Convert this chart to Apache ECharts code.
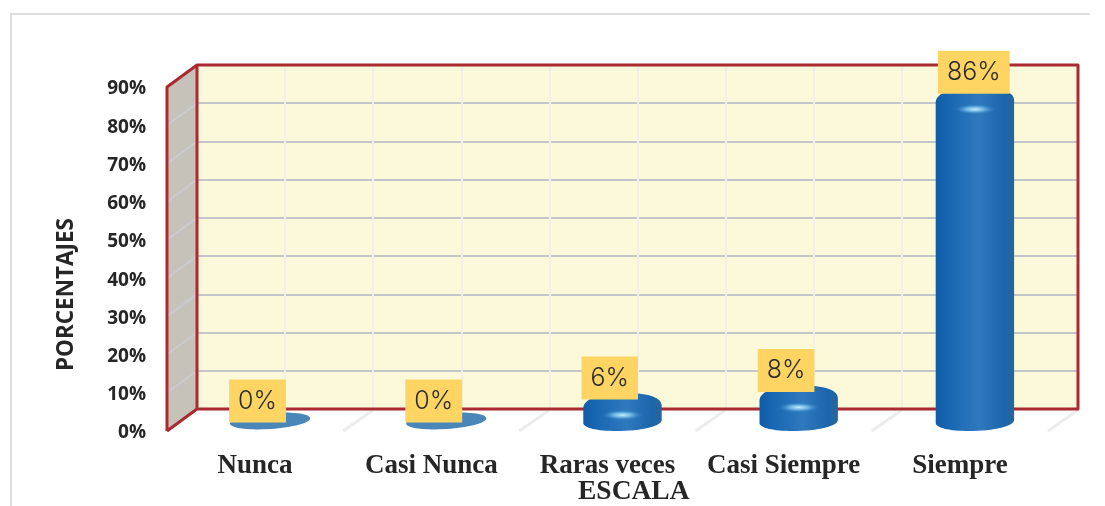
<!DOCTYPE html>
<html>
<head>
<meta charset="utf-8">
<style>
html, body { margin: 0; padding: 0; background: #fff; }
#main { width: 1105px; height: 506px; }
</style>
<script src="https://cdn.jsdelivr.net/npm/echarts@6/dist/echarts.min.js"></script>
</head>
<body>
<div id="main"></div>
<script>
var categories = ['Nunca', 'Casi Nunca', 'Raras veces', 'Casi Siempre', 'Siempre'];
var values = [0, 0, 6, 8, 86];
var yTicks = [0, 10, 20, 30, 40, 50, 60, 70, 80, 90];
var xAxisName = 'ESCALA';
var yAxisName = 'PORCENTAJES';

// depth of the fake 3d box, front plane is shifted from the back wall by this
var depthX = 30;
var depthY = 22;
var red = '#a92a30';

var chart = echarts.init(document.getElementById('main'));

function boxItem(params, api) {
	var tl = api.coord([0, 90]);
	var tr = api.coord([5, 90]);
	var bl = api.coord([0, 0]);
	var br = api.coord([5, 0]);
	var kids = [];
	// left wall
	kids.push({
		type: 'polygon',
		shape: { points: [tl, bl, [bl[0] - depthX, bl[1] + depthY], [tl[0] - depthX, tl[1] + depthY]] },
		style: { fill: '#c6c2ba' }
	});
	yTicks.slice(1, -1).forEach(function(t) {
		var p = api.coord([0, t]);
		kids.push({
			type: 'line',
			shape: { x1: p[0], y1: p[1], x2: p[0] - depthX, y2: p[1] + depthY },
			style: { stroke: '#cbcbcf', lineWidth: 2 }
		});
	});
	// floor marks, every half category
	for (var i = 1; i <= 10; i++) {
		var f = api.coord([i / 2, 0]);
		kids.push({
			type: 'line',
			shape: { x1: f[0], y1: f[1] + 1, x2: f[0] - depthX, y2: f[1] + depthY },
			style: { stroke: i % 2 ? '#f6f6f6' : '#ececec', lineWidth: 3 }
		});
	}
	// red frame
	kids.push({
		type: 'polyline',
		shape: { points: [[bl[0] - depthX, bl[1] + depthY], [tl[0] - depthX, tl[1] + depthY], tl, tr, br, bl, [bl[0] - depthX, bl[1] + depthY]] },
		style: { stroke: red, lineWidth: 3, fill: null, lineJoin: 'round' }
	});
	kids.push({
		type: 'line',
		shape: { x1: tl[0], y1: tl[1], x2: bl[0], y2: bl[1] },
		style: { stroke: red, lineWidth: 3 }
	});
	return { type: 'group', children: kids };
}

function barItem(params, api) {
	var v = api.value(1);
	var c = api.coord([api.value(0), v]);
	var base = api.coord([api.value(0), 0]);
	var w = api.size([1, 0])[0] * 0.445;
	var left = c[0] - w / 2;
	if (v === 0) {
		return {
			type: 'ellipse',
			shape: { cx: c[0], cy: base[1] + 1, rx: w / 2 + 1, ry: 8 },
			rotation: 0.07,
			originX: c[0],
			originY: base[1] + 1,
			style: { fill: '#4a86b8' }
		};
	}
	var top = c[1] - 4;
	var h = base[1] + 11 - top;
	var d = 'M0,15 C0,5 ' + w * 0.25 + ',0 ' + w * 0.55 + ',0 C' + w * 0.85 + ',0 ' + w + ',5 ' + w + ',13 '
		+ 'L' + w + ',' + (h - 11) + ' C' + w + ',' + (h - 5) + ' ' + w * 0.75 + ',' + h + ' ' + w * 0.42 + ',' + h
		+ ' C' + w * 0.18 + ',' + h + ' 0,' + (h - 3) + ' 0,' + (h - 8) + ' Z';
	return {
		type: 'group',
		children: [{
			type: 'path',
			shape: { pathData: d, layout: 'cover', x: left, y: top, width: w, height: h },
			style: {
				fill: new echarts.graphic.LinearGradient(0, 0, 1, 0, [
					{ offset: 0, color: '#0f5ba6' },
					{ offset: 0.15, color: '#1766b2' },
					{ offset: 0.55, color: '#2f79bd' },
					{ offset: 0.88, color: '#1a66ab' },
					{ offset: 1, color: '#2a6598' }
				])
			}
		}, {
			// glint on the shoulder, a circle squashed flat
			type: 'circle',
			x: c[0],
			y: top + 22,
			scaleY: 0.25,
			shape: { cx: 0, cy: 0, r: 21 },
			style: {
				fill: new echarts.graphic.RadialGradient(0.5, 0.5, 0.5, [
					{ offset: 0, color: 'rgba(200,240,252,1)' },
					{ offset: 0.45, color: 'rgba(120,195,235,0.8)' },
					{ offset: 1, color: 'rgba(47,121,189,0)' }
				])
			}
		}]
	};
}

var option = {
	backgroundColor: '#fff',
	animation: false,
	grid: [
		// back wall
		{ left: 197, top: 65, width: 881, height: 344, show: true, backgroundColor: '#fcf9da', borderWidth: 0 },
		// front plane, carries the axis labels (2px low so the tick text lines up)
		{ left: 167, top: 89, width: 881, height: 344, borderWidth: 0 },
		// middle plane, the bars stand here
		{ left: 182, top: 76, width: 881, height: 344, borderWidth: 0 }
	],
	xAxis: [{
		gridIndex: 0,
		type: 'value',
		min: 0,
		max: 5,
		interval: 0.5,
		axisLabel: { show: false },
		axisLine: { show: false },
		axisTick: { show: false },
		splitLine: { show: true, lineStyle: { color: '#f2f0e6', width: 2 } }
	}, {
		gridIndex: 1,
		type: 'category',
		data: categories,
		axisLine: { show: false },
		axisTick: { show: false },
		axisLabel: {
			interval: 0,
			margin: 20,
			color: '#262626',
			fontFamily: 'Liberation Serif',
			fontWeight: 'bold',
			fontSize: 27
		}
	}, {
		gridIndex: 2,
		type: 'category',
		data: categories,
		show: false
	}],
	yAxis: [{
		gridIndex: 0,
		type: 'value',
		min: 0,
		max: 90,
		interval: 10,
		axisLabel: { show: false },
		axisLine: { show: false },
		axisTick: { show: false },
		splitLine: { show: true, lineStyle: { color: '#c3c5c9', width: 2 } }
	}, {
		gridIndex: 1,
		type: 'value',
		min: 0,
		max: 90,
		interval: 10,
		axisLine: { show: false },
		axisTick: { show: false },
		splitLine: { show: false },
		axisLabel: {
			margin: 21,
			color: '#262626',
			fontFamily: 'Open Sans',
			fontWeight: 'bold',
			fontSize: 19,
			formatter: '{value}%'
		}
	}, {
		gridIndex: 2,
		type: 'value',
		min: 0,
		max: 90,
		show: false
	}],
	graphic: [{
		type: 'polyline',
		silent: true,
		shape: { points: [[11, 506], [11, 14], [1090, 14]] },
		style: { stroke: '#dedede', lineWidth: 2, fill: null }
	}, {
		type: 'text',
		left: 55,
		top: 218,
		rotation: Math.PI / 2,
		style: { text: yAxisName, fill: '#262626', font: 'bold 22.5px "Open Sans"' }
	}, {
		type: 'text',
		left: 578,
		top: 478,
		style: { text: xAxisName, fill: '#262626', font: 'bold 27.5px "Liberation Serif"' }
	}],
	series: [{
		name: 'caja',
		type: 'custom',
		xAxisIndex: 0,
		yAxisIndex: 0,
		silent: true,
		clip: false,
		z: 1,
		data: [[0, 0]],
		renderItem: boxItem
	}, {
		name: 'barras',
		type: 'custom',
		xAxisIndex: 2,
		yAxisIndex: 2,
		clip: false,
		z: 5,
		data: categories.map(function(c, i) { return [i, values[i]]; }),
		renderItem: barItem
	}, {
		name: 'etiquetas',
		type: 'scatter',
		xAxisIndex: 1,
		yAxisIndex: 1,
		symbolSize: 0,
		itemStyle: { opacity: 1 },
		z: 10,
		data: categories.map(function(c, i) {
			return {
				value: [c, values[i]],
				label: { offset: [values[i] >= 10 ? -22 : -26, -32] }
			};
		}),
		label: {
			show: true,
			position: 'right',
			distance: 0,
			formatter: function(p) { return p.value[1] + '%'; },
			backgroundColor: '#fed563',
			padding: [10, 9, 10, 9],
			color: '#2b2b2b',
			fontFamily: 'Inter',
			fontWeight: 300,
			fontSize: 25,
			lineHeight: 23
		}
	}]
};

chart.setOption(option);
</script>
</body>
</html>
